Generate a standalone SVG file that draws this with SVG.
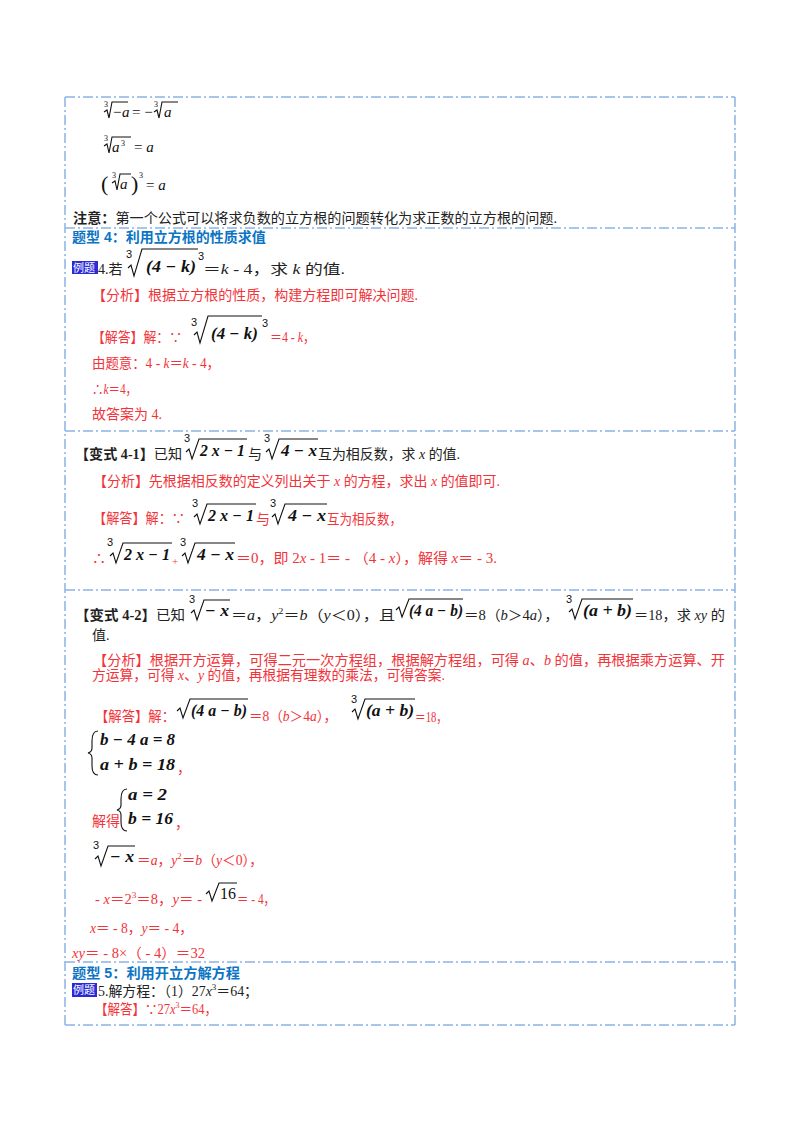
<svg xmlns="http://www.w3.org/2000/svg" width="800" height="1132" viewBox="0 0 800 1132">
<style>
.b{stroke:#8cb3e6;stroke-width:1.5;stroke-dasharray:10 3 2 3;fill:none}
.t{font-family:"Liberation Serif","Noto Sans CJK SC",serif;font-size:14px;fill:#222}
.r{font-family:"Liberation Serif","Noto Sans CJK SC",serif;font-size:14px;fill:#f2333a}
.h{font-family:"Liberation Sans","Noto Sans CJK SC",sans-serif;font-size:14px;font-weight:bold;fill:#0b74c4}
.m{font-family:"Liberation Serif",serif;font-size:15px;fill:#111}
.mi{font-family:"Liberation Serif",serif;font-size:16px;font-style:italic;font-weight:bold;fill:#111}
.s{font-family:"Liberation Sans",sans-serif;font-size:11px;fill:#111}
.ss{font-family:"Liberation Serif",serif;font-size:8px;fill:#111}
.rad{stroke:#111;stroke-width:1.1;fill:none}
.tag{fill:#2a2ad8}
.tagt{font-family:"Noto Sans CJK SC",sans-serif;font-size:11px;fill:#fff}
</style>
<rect width="800" height="1132" fill="#fff"/>
<g id="borders">
<line class="b" x1="65" y1="97" x2="735" y2="97"/>
<line class="b" x1="65" y1="228" x2="735" y2="228"/>
<line class="b" x1="65" y1="431" x2="735" y2="431"/>
<line class="b" x1="65" y1="590" x2="735" y2="590"/>
<line class="b" x1="65" y1="962" x2="735" y2="962"/>
<line class="b" x1="65" y1="1025" x2="735" y2="1025"/>
<line class="b" x1="65" y1="97" x2="65" y2="1025"/>
<line class="b" x1="735" y1="97" x2="735" y2="1025"/>
</g>
<g id="formulas">
<text class="ss" x="104" y="107">3</text>
<path class="rad" d="M104 112 L107 110 L109 118 L112 102 L128 102"/>
<text class="m" x="112" y="117" font-style="italic">−a</text>
<text class="m" x="132" y="117">= −</text>
<text class="ss" x="154" y="107">3</text>
<path class="rad" d="M154 112 L157 110 L159 118 L162 102 L178 102"/>
<text class="m" x="164" y="117" font-style="italic">a</text>
<text class="ss" x="104" y="141">3</text>
<path class="rad" d="M104 146 L107 144 L109 153 L112 137 L131 137"/>
<text class="m" x="112" y="152" font-style="italic">a</text>
<text class="ss" x="121" y="146">3</text>
<text class="m" x="134" y="152">= <tspan font-style="italic">a</tspan></text>
<text class="m" x="101" y="191" style="font-size:22px">(</text>
<text class="ss" x="112" y="178">3</text>
<path class="rad" d="M112 183 L115 181 L117 190 L120 174 L131 174"/>
<text class="m" x="120" y="189" font-style="italic">a</text>
<text class="m" x="131" y="191" style="font-size:22px">)</text>
<text class="ss" x="139" y="178">3</text>
<text class="m" x="146" y="190">= <tspan font-style="italic">a</tspan></text>
<text class="t" x="73" y="223" textLength="484" lengthAdjust="spacingAndGlyphs"><tspan font-weight="bold">注意：</tspan>第一个公式可以将求负数的立方根的问题转化为求正数的立方根的问题.</text>
</g>
<g id="q4">
<text class="h" x="72" y="242">题型 4：利用立方根的性质求值</text>
<rect class="tag" x="72" y="261" width="26" height="13"/>
<text class="tagt" x="73" y="272">例题</text>
<text class="t" x="98" y="274">4.若</text>
<text class="s" x="126" y="258">3</text>
<path class="rad" d="M128 268 L131 265 L134 276 L142 249 L198 249"/>
<text class="mi" x="146" y="272" textLength="50" lengthAdjust="spacingAndGlyphs">(4 − k)</text>
<text class="s" x="198" y="260">3</text>
<text class="t" x="203" y="274" textLength="142" lengthAdjust="spacingAndGlyphs">＝<tspan font-style="italic">k</tspan> - 4，求 <tspan font-style="italic">k</tspan> 的值.</text>
<text class="r" x="92" y="300" textLength="326" lengthAdjust="spacingAndGlyphs">【分析】根据立方根的性质，构建方程即可解决问题.</text>
<text class="r" x="92" y="342" textLength="90" lengthAdjust="spacingAndGlyphs">【解答】解：∵</text>
<text class="s" x="191" y="326">3</text>
<path class="rad" d="M194 335 L197 332 L200 343 L208 316 L262 316"/>
<text class="mi" x="211" y="339" textLength="47" lengthAdjust="spacingAndGlyphs">(4 − k)</text>
<text class="s" x="262" y="327">3</text>
<text class="r" x="270" y="342" textLength="45" lengthAdjust="spacingAndGlyphs">＝4 - <tspan font-style="italic">k</tspan>，</text>
<text class="r" x="92" y="368" textLength="128" lengthAdjust="spacingAndGlyphs">由题意：4 - <tspan font-style="italic">k</tspan>＝<tspan font-style="italic">k</tspan> - 4，</text>
<text class="r" x="92" y="394" textLength="45" lengthAdjust="spacingAndGlyphs">∴<tspan font-style="italic">k</tspan>＝4，</text>
<text class="r" x="92" y="419" textLength="70" lengthAdjust="spacingAndGlyphs">故答案为 4.</text>
</g>
<g id="v41">
<text class="t" x="75" y="459" textLength="107" lengthAdjust="spacingAndGlyphs"><tspan font-weight="bold">【变式 4-1】</tspan>已知</text>
<text class="s" x="184" y="442">3</text>
<path class="rad" d="M186 452 L189 449 L192 459 L199 439 L247 439"/>
<text class="mi" x="200" y="456" textLength="45" lengthAdjust="spacingAndGlyphs">2 x − 1</text>
<text class="t" x="248" y="459">与</text>
<text class="s" x="264" y="442">3</text>
<path class="rad" d="M266 452 L269 449 L272 459 L279 439 L318 439"/>
<text class="mi" x="281" y="456" textLength="36" lengthAdjust="spacingAndGlyphs">4 − x</text>
<text class="t" x="318" y="459" textLength="142" lengthAdjust="spacingAndGlyphs">互为相反数，求 <tspan font-style="italic">x</tspan> 的值.</text>
<text class="r" x="93" y="486" textLength="407" lengthAdjust="spacingAndGlyphs">【分析】先根据相反数的定义列出关于 <tspan font-style="italic">x</tspan> 的方程，求出 <tspan font-style="italic">x</tspan> 的值即可.</text>
<text class="r" x="93" y="523" textLength="92" lengthAdjust="spacingAndGlyphs">【解答】解：∵</text>
<text class="s" x="192" y="507">3</text>
<path class="rad" d="M194 517 L197 514 L200 524 L207 504 L256 504"/>
<text class="mi" x="208" y="521" textLength="46" lengthAdjust="spacingAndGlyphs">2 x − 1</text>
<text class="r" x="256" y="524">与</text>
<text class="s" x="270" y="507">3</text>
<path class="rad" d="M272 517 L275 514 L278 524 L285 504 L327 504"/>
<text class="mi" x="288" y="521" textLength="38" lengthAdjust="spacingAndGlyphs">4 − x</text>
<text class="r" x="327" y="524" textLength="75" lengthAdjust="spacingAndGlyphs">互为相反数，</text>
<text class="r" x="92" y="563">∴</text>
<text class="s" x="107" y="546">3</text>
<path class="rad" d="M110 556 L113 553 L116 563 L123 543 L172 543"/>
<text class="mi" x="124" y="560" textLength="46" lengthAdjust="spacingAndGlyphs">2 x − 1</text>
<text class="r" x="172" y="565" style="font-size:11px">+</text>
<text class="s" x="180" y="546">3</text>
<path class="rad" d="M182 556 L185 553 L188 563 L195 543 L235 543"/>
<text class="mi" x="197" y="560" textLength="37" lengthAdjust="spacingAndGlyphs">4 − x</text>
<text class="r" x="236" y="563" textLength="261" lengthAdjust="spacingAndGlyphs">＝0，即 2<tspan font-style="italic">x</tspan> - 1＝ - （4 - <tspan font-style="italic">x</tspan>），解得 <tspan font-style="italic">x</tspan>＝ - 3.</text>
</g>
<g id="v42">
<text class="t" x="75" y="620" textLength="110" lengthAdjust="spacingAndGlyphs"><tspan font-weight="bold">【变式 4-2】</tspan>已知</text>
<text class="s" x="189" y="603">3</text>
<path class="rad" d="M191 613 L194 610 L197 620 L204 600 L230 600"/>
<text class="mi" x="205" y="616" textLength="24" lengthAdjust="spacingAndGlyphs">− x</text>
<text class="t" x="231" y="620" textLength="164" lengthAdjust="spacingAndGlyphs">＝<tspan font-style="italic">a</tspan>，<tspan font-style="italic">y</tspan><tspan font-size="9" dy="-6">2</tspan><tspan dy="6">＝</tspan><tspan font-style="italic">b</tspan>（<tspan font-style="italic">y</tspan>＜0），且</text>
<path class="rad" d="M396 610 L399 607 L402 617 L409 599 L463 599"/>
<text class="mi" x="409" y="616" textLength="54" lengthAdjust="spacingAndGlyphs">(4 a − b)</text>
<text class="t" x="464" y="620" textLength="95" lengthAdjust="spacingAndGlyphs">＝8（<tspan font-style="italic">b</tspan>＞4<tspan font-style="italic">a</tspan>），</text>
<text class="s" x="566" y="603">3</text>
<path class="rad" d="M569 612 L572 609 L575 619 L582 599 L633 599"/>
<text class="mi" x="583" y="616" textLength="49" lengthAdjust="spacingAndGlyphs">(a + b)</text>
<text class="t" x="634" y="620" textLength="91" lengthAdjust="spacingAndGlyphs">＝18，求 <tspan font-style="italic">xy</tspan> 的</text>
<text class="t" x="92" y="640">值.</text>
<text class="r" x="93" y="665" textLength="632" lengthAdjust="spacingAndGlyphs">【分析】根据开方运算，可得二元一次方程组，根据解方程组，可得 <tspan font-style="italic">a</tspan>、<tspan font-style="italic">b</tspan> 的值，再根据乘方运算、开</text>
<text class="r" x="92" y="680" textLength="353" lengthAdjust="spacingAndGlyphs">方运算，可得 <tspan font-style="italic">x</tspan>、<tspan font-style="italic">y</tspan> 的值，再根据有理数的乘法，可得答案.</text>
<text class="r" x="95" y="721" textLength="80" lengthAdjust="spacingAndGlyphs">【解答】解：</text>
<path class="rad" d="M177 711 L180 708 L183 718 L190 699 L248 699"/>
<text class="mi" x="191" y="716" textLength="56" lengthAdjust="spacingAndGlyphs">(4 a − b)</text>
<text class="r" x="249" y="721" textLength="88" lengthAdjust="spacingAndGlyphs">＝8（<tspan font-style="italic">b</tspan>＞4<tspan font-style="italic">a</tspan>），</text>
<text class="s" x="351" y="703">3</text>
<path class="rad" d="M352 712 L355 709 L358 719 L365 699 L415 699"/>
<text class="mi" x="366" y="716" textLength="48" lengthAdjust="spacingAndGlyphs">(a + b)</text>
<text class="r" x="415" y="722" textLength="32" lengthAdjust="spacingAndGlyphs">＝18，</text>
<path class="rad" d="M98 731 Q92 731 92 741 L92 748 Q92 752 88 753 Q92 754 92 758 L92 766 Q92 775 98 775"/>
<text class="mi" x="100" y="745" textLength="75" lengthAdjust="spacingAndGlyphs">b − 4 a = 8</text>
<text class="mi" x="100" y="770" textLength="75" lengthAdjust="spacingAndGlyphs">a + b = 18</text>
<text class="r" x="177" y="773">，</text>
<text class="r" x="92" y="826">解得</text>
<path class="rad" d="M127 789 Q121 789 121 799 L121 805 Q121 809 117 810 Q121 811 121 815 L121 822 Q121 831 127 831"/>
<text class="mi" x="128" y="800" textLength="39" lengthAdjust="spacingAndGlyphs">a = 2</text>
<text class="mi" x="128" y="824" textLength="45" lengthAdjust="spacingAndGlyphs">b = 16</text>
<text class="r" x="175" y="828">，</text>
<text class="s" x="93" y="849">3</text>
<path class="rad" d="M95 859 L98 856 L101 866 L108 846 L135 846"/>
<text class="mi" x="110" y="862" textLength="24" lengthAdjust="spacingAndGlyphs">− x</text>
<text class="r" x="137" y="865" textLength="126" lengthAdjust="spacingAndGlyphs">＝<tspan font-style="italic">a</tspan>，<tspan font-style="italic">y</tspan><tspan font-size="9" dy="-6">2</tspan><tspan dy="6">＝</tspan><tspan font-style="italic">b</tspan>（<tspan font-style="italic">y</tspan>＜0），</text>
<text class="r" x="95" y="904" textLength="107" lengthAdjust="spacingAndGlyphs">- <tspan font-style="italic">x</tspan>＝2<tspan font-size="9" dy="-6">3</tspan><tspan dy="6">＝8，</tspan><tspan font-style="italic">y</tspan>＝ -</text>
<path class="rad" d="M206 894 L209 891 L212 901 L219 883 L237 883"/>
<text class="m" x="220" y="899" style="font-size:16px">16</text>
<text class="r" x="237" y="904" textLength="38" lengthAdjust="spacingAndGlyphs">＝ - 4，</text>
<text class="r" x="90" y="933" textLength="103" lengthAdjust="spacingAndGlyphs"><tspan font-style="italic">x</tspan>＝ - 8，<tspan font-style="italic">y</tspan>＝ - 4，</text>
<text class="r" x="72" y="958" textLength="133" lengthAdjust="spacingAndGlyphs"><tspan font-style="italic">xy</tspan>＝ - 8×（ - 4）＝32</text>
</g>
<g id="q5">
<text class="h" x="72" y="978" textLength="168" lengthAdjust="spacingAndGlyphs">题型 5：利用开立方解方程</text>
<rect class="tag" x="72" y="983" width="25" height="14"/>
<text class="tagt" x="73" y="994">例题</text>
<text class="t" x="98" y="996" textLength="160" lengthAdjust="spacingAndGlyphs">5.解方程：（1）27<tspan font-style="italic">x</tspan><tspan font-size="9" dy="-6">3</tspan><tspan dy="6">＝64；</tspan></text>
<text class="r" x="95" y="1014" textLength="122" lengthAdjust="spacingAndGlyphs">【解答】∵27<tspan font-style="italic">x</tspan><tspan font-size="9" dy="-6">3</tspan><tspan dy="6">＝64，</tspan></text>
</g>
</svg>
